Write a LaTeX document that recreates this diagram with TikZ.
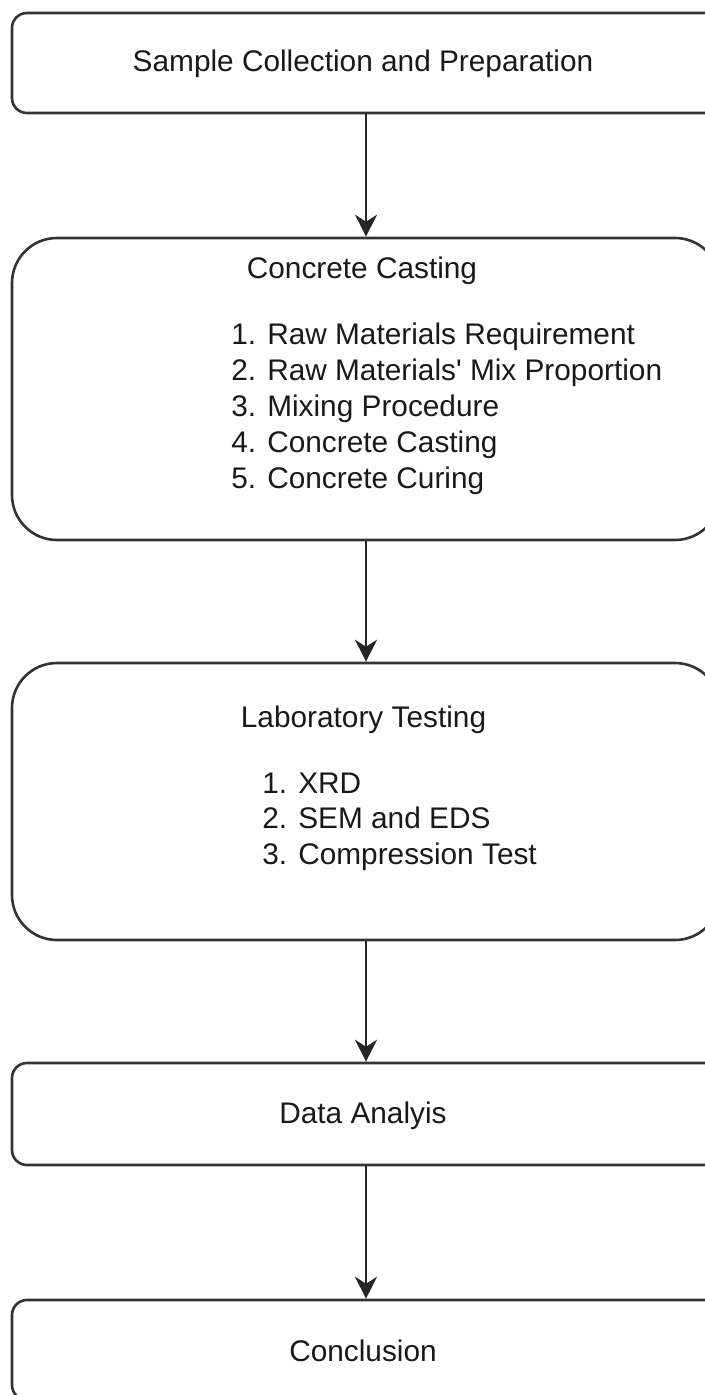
\documentclass[tikz,border=0pt]{standalone}
\usepackage{fontspec}
\setmainfont{Liberation Sans}[Ligatures=TeXOff]
\usetikzlibrary{arrows.meta}
\begin{document}
\begin{tikzpicture}[x=0.5pt,y=-0.5pt,
  every node/.style={font=\fontsize{14.9pt}{17.9pt}\selectfont, text=black!90},
  stage/.style={draw=black!80, line width=1.3pt, minimum width=354pt, inner sep=0pt, rounded corners=7.5pt},
  bigstage/.style={stage, rounded corners=22.5pt},
  label/.style={anchor=base, inner sep=0pt},
  item/.style={anchor=base west, inner sep=0pt},
  flow/.style={draw=black!85, line width=1pt, -{Stealth[length=11pt, width=11pt, inset=3.5pt]}}]
\useasboundingbox (0,0) rectangle (705,1395);
\clip (0,0) rectangle (705,1395);

% stage boxes (they run past the right edge of the sheet)
\node[stage, minimum height=50pt] (prep) at (366,63) {};
\node[bigstage, minimum height=151pt] (cast) at (366,389) {};
\node[bigstage, minimum height=138.5pt] (lab) at (366,801.5) {};
\node[stage, minimum height=51pt] (data) at (366,1114) {};
\node[stage, minimum height=50pt] (concl) at (366,1350) {};

% labels
\node[label] (prepT) at (363,72) {Sample Collection and Preparation};

\node[label] (castT) at (362,279) {Concrete Casting};
\node[item] (c1) at (231,345) {1. Raw Materials Requirement};
\node[item] (c2) at (231,380.8) {2. Raw Materials' Mix Proportion};
\node[item] (c3) at (231,416.6) {3. Mixing Procedure};
\node[item] (c4) at (231,452.4) {4. Concrete Casting};
\node[item] (c5) at (231,488.2) {5. Concrete Curing};

\node[label] (labT) at (363.5,727) {Laboratory Testing};
\node[item] (l1) at (262,793) {1. XRD};
\node[item] (l2) at (262,828.8) {2. SEM and EDS};
\node[item] (l3) at (262,864.6) {3. Compression Test};

\node[label] (dataT) at (363,1123) {Data Analyis};
\node[label] (conclT) at (363,1361) {Conclusion};

% connectors
\draw[flow] (prep.south) -- (cast.north);
\draw[flow] (cast.south) -- (lab.north);
\draw[flow] (lab.south) -- (data.north);
\draw[flow] (data.south) -- (concl.north);
\end{tikzpicture}
\end{document}
